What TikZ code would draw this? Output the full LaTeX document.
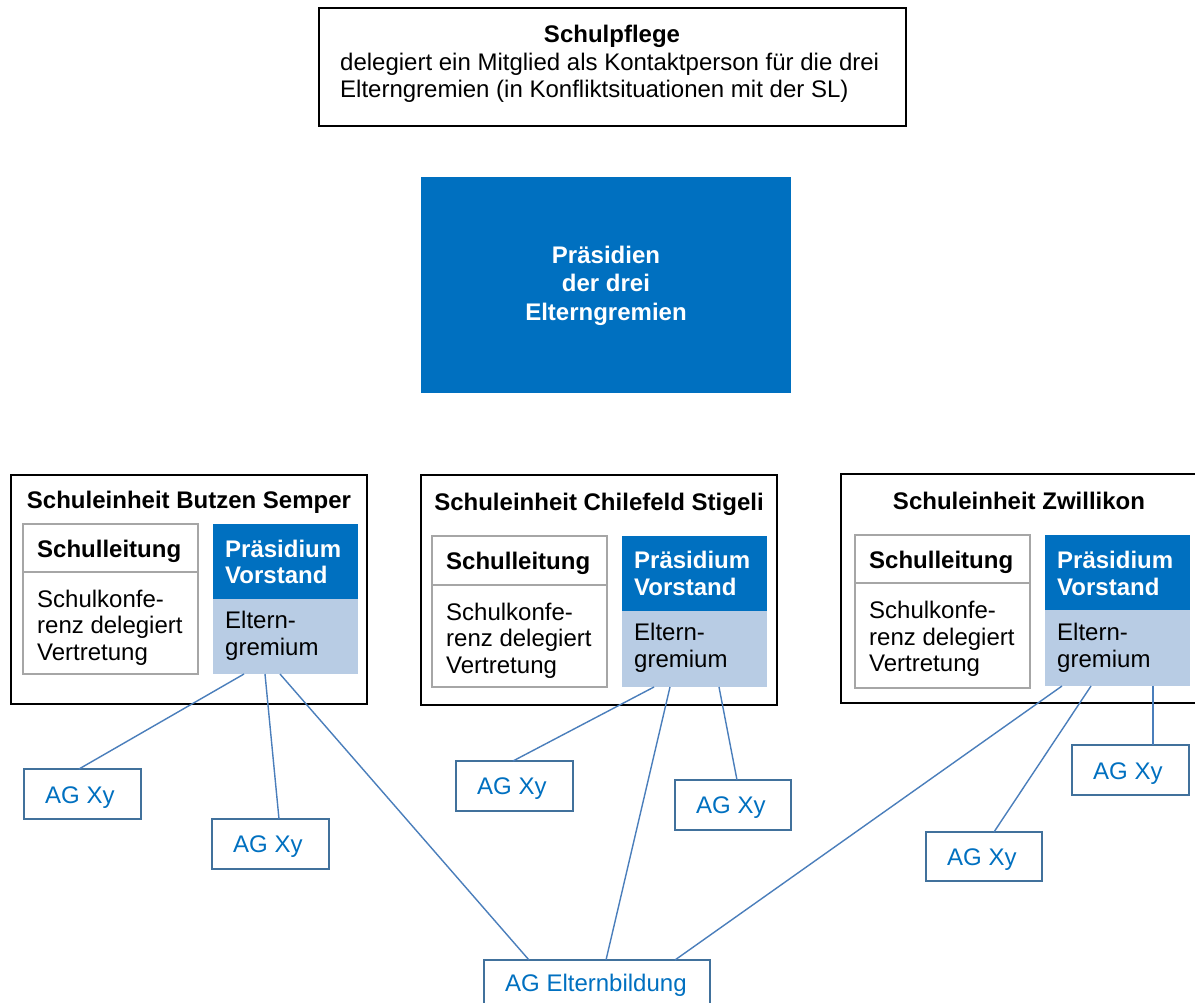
\documentclass[tikz,border=0pt]{standalone}
\usepackage{fontspec}
\setmainfont{Liberation Sans}
\usetikzlibrary{calc,fit}
\definecolor{dblue}{HTML}{0070C0}
\definecolor{lblue}{HTML}{B8CCE4}
\definecolor{lineblue}{HTML}{4A7EBB}
\definecolor{agborder}{HTML}{41719C}
\definecolor{sgray}{HTML}{A6A6A6}
\begin{document}
\begin{tikzpicture}[x=1pt,y=-1pt,
  font=\fontsize{24}{27}\selectfont,
  rect/.style={fit={#1}, inner sep=0pt, outer sep=0pt},
  blackbox/.style={draw=black, line width=1.8pt},
  graybox/.style={draw=sgray, line width=1.8pt},
  darkfill/.style={fill=dblue},
  lightfill/.style={fill=lblue},
  agbox/.style={draw=agborder, line width=1.8pt},
  tl/.style={anchor=base west, inner sep=0pt},
  tc/.style={anchor=base, inner sep=0pt},
  wtext/.style={text=white, font=\fontsize{24}{27}\selectfont\bfseries},
  agtext/.style={text=dblue, anchor=base west, inner sep=0pt},
  conn/.style={draw=lineblue, line width=1.4pt}
]
\useasboundingbox (0,0) rectangle (1195,1003);
\fill[white] (0,0) rectangle (1195,1003);

% Schulpflege
\node[rect={(319,8) (906,126)}, blackbox] (sp) {};
\node[tc, font=\fontsize{24}{27}\selectfont\bfseries] (spt) at (612,43) {Schulpflege};
\node[tl] (sp1) at (340,71) {delegiert ein Mitglied als Kontaktperson für die drei};
\node[tl] (sp2) at (340,98) {Elterngremien (in Konfliktsituationen mit der SL)};

% Praesidien
\node[rect={(421,177) (791,393)}, darkfill] (pr) {};
\node[tc, wtext] (pr1) at (606,264) {Präsidien};
\node[tc, wtext] (pr2) at (606,292) {der drei};
\node[tc, wtext] (pr3) at (606,320) {Elterngremien};

% Unit 1
\node[rect={(11,475) (367,704)}, blackbox] (u1) {};
\node[tc, font=\fontsize{24}{27}\selectfont\bfseries] (u1t) at (189,508) {Schuleinheit Butzen Semper};
\node[rect={(23,524) (198,572)}, graybox] (slh1) {};
\node[rect={(23,572) (198,674)}, graybox] (slb1) {};
\node[tl, font=\fontsize{24}{27}\selectfont\bfseries] (slt1) at (37,557) {Schulleitung};
\node[tl] (sk1a) at (37,607) {Schulkonfe-};
\node[tl] (sk1b) at (37,633) {renz delegiert};
\node[tl] (sk1c) at (37,660) {Vertretung};
\node[rect={(213,524) (358,599)}, darkfill] (pv1) {};
\node[rect={(213,599) (358,674)}, lightfill] (eg1) {};
\node[tl, wtext] (pv1a) at (225,557) {Präsidium};
\node[tl, wtext] (pv1b) at (225,583) {Vorstand};
\node[tl] (eg1a) at (225,628) {Eltern-};
\node[tl] (eg1b) at (225,655) {gremium};

% Unit 2
\node[rect={(421,475) (777,705)}, blackbox] (u2) {};
\node[tc, font=\fontsize{24}{27}\selectfont\bfseries] (u2t) at (599,510) {Schuleinheit Chilefeld Stigeli};
\node[rect={(432,536) (607,585)}, graybox] (slh2) {};
\node[rect={(432,585) (607,687)}, graybox] (slb2) {};
\node[tl, font=\fontsize{24}{27}\selectfont\bfseries] (slt2) at (446,569) {Schulleitung};
\node[tl] (sk2a) at (446,620) {Schulkonfe-};
\node[tl] (sk2b) at (446,646) {renz delegiert};
\node[tl] (sk2c) at (446,673) {Vertretung};
\node[rect={(622,536) (767,611)}, darkfill] (pv2) {};
\node[rect={(622,611) (767,687)}, lightfill] (eg2) {};
\node[tl, wtext] (pv2a) at (634,568) {Präsidium};
\node[tl, wtext] (pv2b) at (634,595) {Vorstand};
\node[tl] (eg2a) at (634,640) {Eltern-};
\node[tl] (eg2b) at (634,667) {gremium};

% Unit 3
\node[rect={(841,474) (1197,703)}, blackbox] (u3) {};
\node[tc, font=\fontsize{24}{27}\selectfont\bfseries] (u3t) at (1019,509) {Schuleinheit Zwillikon};
\node[rect={(855,535) (1030,583)}, graybox] (slh3) {};
\node[rect={(855,583) (1030,688)}, graybox] (slb3) {};
\node[tl, font=\fontsize{24}{27}\selectfont\bfseries] (slt3) at (869,568) {Schulleitung};
\node[tl] (sk3a) at (869,618) {Schulkonfe-};
\node[tl] (sk3b) at (869,645) {renz delegiert};
\node[tl] (sk3c) at (869,671) {Vertretung};
\node[rect={(1045,535) (1190,610)}, darkfill] (pv3) {};
\node[rect={(1045,610) (1190,686)}, lightfill] (eg3) {};
\node[tl, wtext] (pv3a) at (1057,568) {Präsidium};
\node[tl, wtext] (pv3b) at (1057,595) {Vorstand};
\node[tl] (eg3a) at (1057,640) {Eltern-};
\node[tl] (eg3b) at (1057,667) {gremium};

% AG boxes
\node[rect={(24,769) (141,819)}, agbox] (ag1) {};
\node[agtext] (ag1t) at ($(ag1.north west)+(21,34)$) {AG Xy};
\node[rect={(212,819) (329,869)}, agbox] (ag2) {};
\node[agtext] (ag2t) at ($(ag2.north west)+(21,33)$) {AG Xy};
\node[rect={(456,761) (573,811)}, agbox] (ag3) {};
\node[agtext] (ag3t) at ($(ag3.north west)+(21,33)$) {AG Xy};
\node[rect={(675,780) (791,830)}, agbox] (ag4) {};
\node[agtext] (ag4t) at ($(ag4.north west)+(21,33)$) {AG Xy};
\node[rect={(926,832) (1042,881)}, agbox] (ag5) {};
\node[agtext] (ag5t) at ($(ag5.north west)+(21,33)$) {AG Xy};
\node[rect={(1072,745) (1189,795)}, agbox] (ag6) {};
\node[agtext] (ag6t) at ($(ag6.north west)+(21,34)$) {AG Xy};
\node[rect={(484,960) (710,1012)}, agbox] (age) {};
\node[agtext] (aget) at ($(age.north west)+(21,31)$) {AG Elternbildung};

% connectors
\draw[conn] ($(eg1.south west)+(31,0)$) -- ($(ag1.north west)+(55,0)$);
\draw[conn] ($(eg1.south west)+(52,0)$) -- ($(ag2.north west)+(67,0)$);
\draw[conn] ($(eg1.south west)+(67,0)$) -- ($(age.north west)+(45,0)$);
\draw[conn] ($(eg2.south west)+(32,0)$) -- ($(ag3.north west)+(57,0)$);
\draw[conn] ($(eg2.south west)+(48,0)$) -- ($(age.north west)+(122,0)$);
\draw[conn] ($(eg2.south west)+(97,0)$) -- ($(ag4.north west)+(62,0)$);
\draw[conn] ($(eg3.south west)+(17,0)$) -- ($(age.north west)+(191,0)$);
\draw[conn] ($(eg3.south west)+(46,0)$) -- ($(ag5.north west)+(68,0)$);
\draw[conn] ($(eg3.south west)+(108,0)$) -- ($(ag6.north west)+(81,0)$);
\end{tikzpicture}
\end{document}
